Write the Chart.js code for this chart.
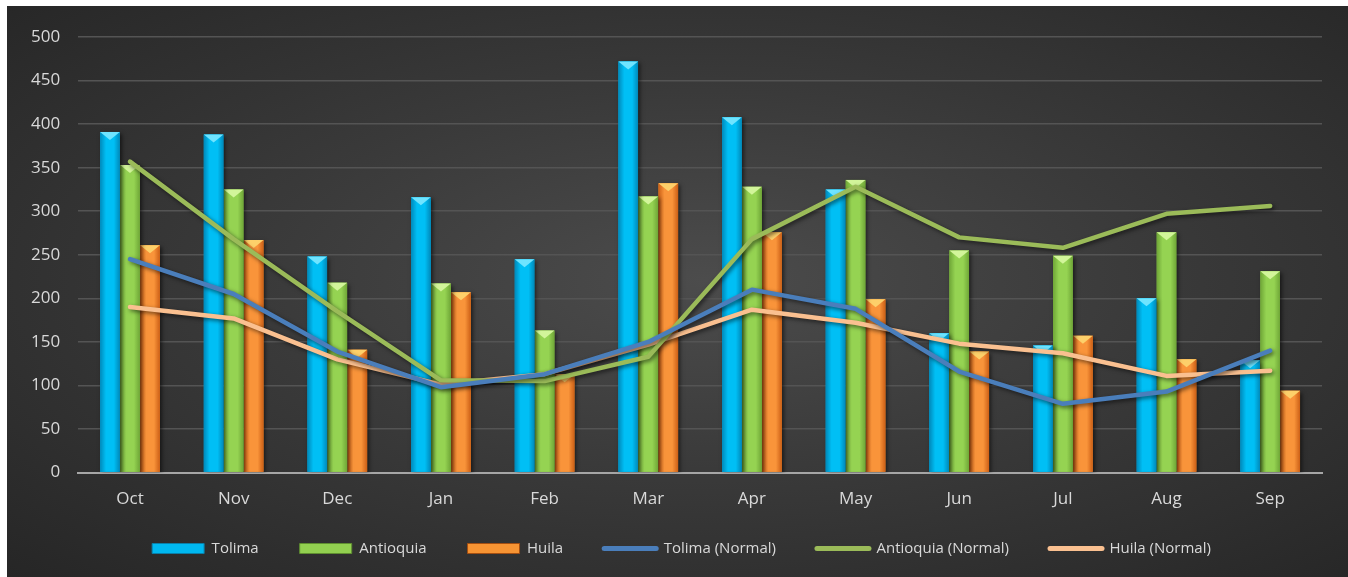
<!DOCTYPE html>
<html>
<head>
<meta charset="utf-8">
<script src="https://cdn.jsdelivr.net/npm/chart.js@4.4.0/dist/chart.umd.min.js"></script>
<style>
  html, body { margin: 0; padding: 0; background: #fff; }
  #wrap {
    position: absolute; left: 7px; top: 6px; width: 1341px; height: 571px;
    background: radial-gradient(ellipse at 52% 48%, #4c4c4c 0%, #3a3a3a 45%, #262626 100%);
  }
</style>
</head>
<body>
<div id="wrap"><canvas id="chart"></canvas></div>
<script>
var months = ['Oct', 'Nov', 'Dec', 'Jan', 'Feb', 'Mar', 'Apr', 'May', 'Jun', 'Jul', 'Aug', 'Sep'];
var tolima = [391, 388, 248, 316, 245, 472, 408, 325, 160, 146, 200, 129];
var antioquia = [353, 325, 218, 217, 163, 317, 328, 336, 255, 249, 276, 231];
var huila = [261, 267, 141, 207, 113, 332, 276, 199, 139, 157, 130, 94];
var tolimaNormal = [245, 205, 139, 98, 113, 150, 210, 188, 116, 79, 93, 140];
var antioquiaNormal = [357, 268, 185, 106, 105, 133, 268, 328, 270, 258, 297, 306];
var huilaNormal = [190, 177, 130, 101, 113, 147, 187, 172, 148, 137, 111, 117];
var yTicks = [0, 50, 100, 150, 200, 250, 300, 350, 400, 450, 500];

// bar shading: edge, middle, top bevel
var bevel = {
    'Tolima': ['#0089ba', '#00bff5', '#6fe4ff'],
    'Antioquia': ['#6fa637', '#95d352', '#d2f59a'],
    'Huila': ['#cc5f16', '#f9943a', '#fdd06a']
};

var barLook = {
    id: 'barLook',
    afterLayout: function (chart) {
        // pull the legend up closer to the axis labels, nudge it right
        chart.legend.top -= 25;
        chart.legend.bottom -= 25;
        chart.legend.left += 14;
        chart.legend.right += 14;
    },
    beforeDatasetDraw: function (chart, args) {
        var ctx = chart.ctx;
        ctx.save();
        ctx.shadowColor = 'rgba(0,0,0,0.55)';
        ctx.shadowBlur = 4;
        ctx.shadowOffsetX = 2;
        ctx.shadowOffsetY = 2;
    },
    afterDatasetDraw: function (chart, args) {
        var ctx = chart.ctx;
        ctx.restore();
        var ds = chart.data.datasets[args.index];
        var c = bevel[ds.label];
        if (!c) return;
        args.meta.data.forEach(function (bar) {
            var p = bar.getProps(['x', 'y', 'base', 'width'], true);
            var l = p.x - p.width / 2, r = p.x + p.width / 2;
            var g = ctx.createLinearGradient(l, 0, r, 0);
            g.addColorStop(0, c[0]);
            g.addColorStop(0.3, c[1]);
            g.addColorStop(0.7, c[1]);
            g.addColorStop(1, c[0]);
            ctx.fillStyle = g;
            ctx.fillRect(l, p.y, p.width, p.base - p.y);
            ctx.fillStyle = c[2];
            ctx.beginPath();
            ctx.moveTo(l, p.y);
            ctx.lineTo(r, p.y);
            ctx.lineTo(p.x, p.y + 8);
            ctx.closePath();
            ctx.fill();
        });
    }
};

var ctx = document.getElementById('chart').getContext('2d');
var chart = new Chart(ctx, {
    data: {
        labels: months,
        datasets: [
            { type: 'bar', label: 'Tolima', data: tolima, backgroundColor: '#00b8f0', borderColor: '#0a7fa8', order: 1 },
            { type: 'bar', label: 'Antioquia', data: antioquia, backgroundColor: '#92d050', borderColor: '#5f8f30', order: 1 },
            { type: 'bar', label: 'Huila', data: huila, backgroundColor: '#f79433', borderColor: '#a44f12', order: 1 },
            { type: 'line', label: 'Tolima (Normal)', data: tolimaNormal, borderColor: '#4a7ebb', backgroundColor: '#4a7ebb', order: 0 },
            { type: 'line', label: 'Antioquia (Normal)', data: antioquiaNormal, borderColor: '#9bbb59', backgroundColor: '#9bbb59', order: 0 },
            { type: 'line', label: 'Huila (Normal)', data: huilaNormal, borderColor: '#fac090', backgroundColor: '#fac090', order: 0 }
        ]
    },
    options: {
        responsive: true,
        maintainAspectRatio: false,
        animation: false,
        layout: { padding: { left: 6, right: 26, top: 31, bottom: -14 } },
        datasets: {
            bar: { categoryPercentage: 0.58, barPercentage: 0.98, borderWidth: 0 },
            line: { borderWidth: 4.5, pointRadius: 0, tension: 0, borderCapStyle: 'round', borderJoinStyle: 'round' }
        },
        scales: {
            x: {
                grid: { display: false, drawTicks: false },
                border: { color: '#a6a6a6', width: 2 },
                ticks: { color: '#d9d9d9', font: { family: 'Open Sans', size: 17 }, padding: 16 }
            },
            y: {
                min: 0,
                max: 500,
                afterBuildTicks: function (axis) { axis.ticks = yTicks.map(function (v) { return { value: v }; }); },
                grid: { color: '#545454', lineWidth: 1.5, drawTicks: false },
                border: { display: false },
                ticks: { color: '#d9d9d9', font: { family: 'Open Sans', size: 17 }, padding: 18 }
            }
        },
        plugins: {
            legend: {
                position: 'bottom',
                labels: {
                    color: '#d9d9d9',
                    font: { family: 'Open Sans', size: 15 },
                    usePointStyle: true,
                    pointStyleWidth: 52,
                    boxHeight: 10,
                    padding: 41,
                    sort: function (a, b) { return a.datasetIndex - b.datasetIndex; },
                    generateLabels: function (chart) {
                        var items = Chart.defaults.plugins.legend.labels.generateLabels(chart);
                        items.forEach(function (it) {
                            var ds = chart.data.datasets[it.datasetIndex];
                            if (ds.type === 'line') {
                                it.pointStyle = 'line';
                                it.lineWidth = 5;
                                it.lineCap = 'round';
                            } else {
                                it.pointStyle = 'rect';
                                it.fillStyle = ds.backgroundColor;
                                it.strokeStyle = ds.borderColor;
                                it.lineWidth = 1;
                            }
                        });
                        return items;
                    }
                }
            },
            tooltip: { enabled: false }
        }
    },
    plugins: [barLook]
});
</script>
</body>
</html>
